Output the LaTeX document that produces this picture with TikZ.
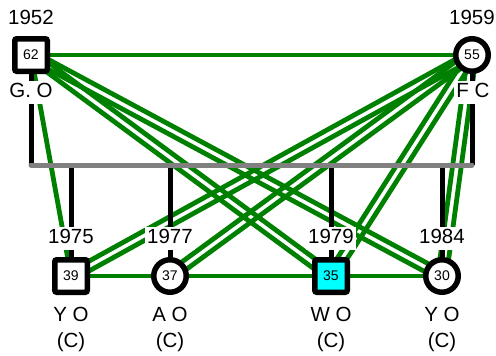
\documentclass[tikz,border=0pt]{standalone}
\usepackage{fontspec}
\setmainfont{Liberation Sans}
\usetikzlibrary{calc}
\definecolor{relgreen}{RGB}{0,128,0}
\definecolor{kingray}{RGB}{128,128,128}
\definecolor{boxcyan}{RGB}{0,255,255}
\pgfdeclarelayer{greenlayer}
\pgfdeclarelayer{kinlayer}
\pgfsetlayers{greenlayer,kinlayer,main}
\newcommand{\dblrel}[2]{%
  \draw[rel] ($(#1)!4.3pt!90:(#2)$) -- ($(#2)!4.3pt!-90:(#1)$);
  \draw[rel] ($(#1)!4.3pt!-90:(#2)$) -- ($(#2)!4.3pt!90:(#1)$);}
\begin{document}
\begin{tikzpicture}[x=1pt,y=-1pt,
  person/.style={draw=black, line width=5.5pt, fill=white, minimum size=32.5pt, inner sep=0pt, font=\fontsize{14}{14}\selectfont},
  male/.style={person, rectangle, rounded corners=2pt},
  female/.style={person, circle},
  rel/.style={draw=relgreen, line width=4.8pt},
  kin/.style={draw=black, line width=5pt},
  sib/.style={draw=kingray, line width=5pt, line cap=round},
  lbl/.style={fill=white, inner sep=2pt, text height=15pt, text depth=4pt, font=\fontsize{20.5}{24}\selectfont},
  txt/.style={inner sep=1pt, font=\fontsize{20.5}{24}\selectfont}]
\useasboundingbox (0,0) rectangle (496,356);
% persons
\node[male] (F) at (31,55) {62};
\node[female] (M) at (472,55) {55};
\node[male] (C1) at (71,276) {39};
\node[female] (C2) at (170,276) {37};
\node[male, fill=boxcyan] (C3) at (331,276) {35};
\node[female] (C4) at (442,276) {30};
% sibling line ends
\coordinate (gl) at (31,165);
\coordinate (gr) at (472,165);
% relationship lines
\begin{pgfonlayer}{greenlayer}
\draw[rel] (F) -- (M);
\draw[rel] (F) -- (C1);
\dblrel{F}{C3}
\dblrel{F}{C4}
\dblrel{M}{C1}
\dblrel{M}{C2}
\dblrel{M}{C3}
\dblrel{M}{C4}
\draw[rel] (C1) -- (C2);
\draw[rel] (C2) -- (C3);
\draw[rel] (C3) -- (C4);
\end{pgfonlayer}
% kinship lines
\begin{pgfonlayer}{kinlayer}
\draw[kin] (F) -- (gl);
\draw[kin] (M) -- (gr);
\draw[kin] (C1 |- gl) -- (C1);
\draw[kin] (C2 |- gl) -- (C2);
\draw[kin] (C3 |- gl) -- (C3);
\draw[kin] (C4 |- gl) -- (C4);
\draw[sib] (gl) -- (gr);
\end{pgfonlayer}
% labels
\node[txt] (yF) at (31,17) {1952};
\node[txt] (yM) at (472,17) {1959};
\node[lbl] (nF) at (31,92) {G. O};
\node[lbl] (nM) at (473,92) {F C};
\node[lbl] (y1) at (71,238) {1975};
\node[lbl] (y2) at (170,238) {1977};
\node[lbl] (y3) at (331,238) {1979};
\node[lbl] (y4) at (442,238) {1984};
\node[txt] (n1) at (71,314) {Y O};
\node[txt] (n2) at (170,314) {A O};
\node[txt] (n3) at (331,314) {W O};
\node[txt] (n4) at (442,314) {Y O};
\node[txt] (c1) at (71,342) {(C)};
\node[txt] (c2) at (170,342) {(C)};
\node[txt] (c3) at (331,342) {(C)};
\node[txt] (c4) at (442,342) {(C)};
\end{tikzpicture}
\end{document}
